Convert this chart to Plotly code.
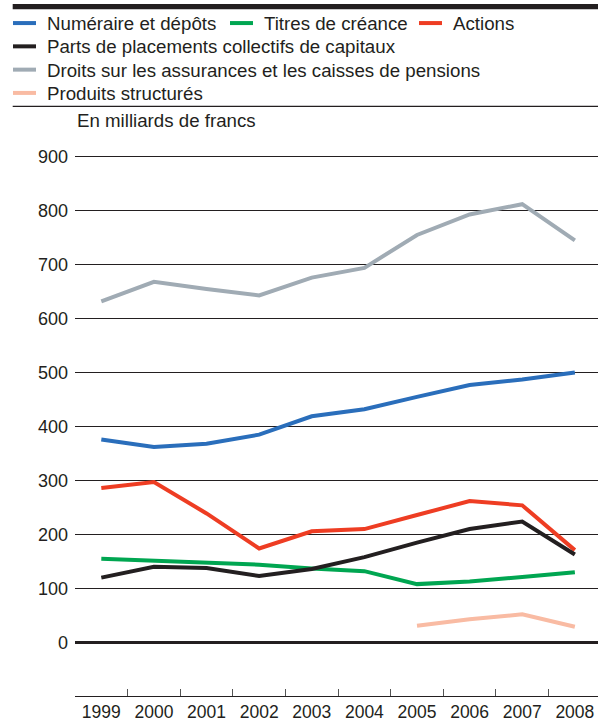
import plotly.graph_objects as go

# ---- data ----
years = ["1999", "2000", "2001", "2002", "2003", "2004", "2005", "2006", "2007", "2008"]
numeraire = [376, 362, 368, 385, 419, 432, 455, 477, 487, 500]
titres = [155, 151, 148, 144, 137, 132, 108, 113, 121, 130]
actions = [286, 297, 239, 174, 206, 210, 236, 262, 254, 171]
parts = [120, 140, 138, 123, 136, 158, 185, 210, 224, 163]
droits = [632, 668, 655, 643, 676, 694, 755, 793, 812, 745]
produits = [None, None, None, None, None, None, 31, 43, 52, 29]

y_ticks = [0, 100, 200, 300, 400, 500, 600, 700, 800, 900]

series = [
    ("Numéraire et dépôts", numeraire, "#2a6ebb"),
    ("Titres de créance", titres, "#00a651"),
    ("Actions", actions, "#ee3d23"),
    ("Parts de placements collectifs de capitaux", parts, "#231f20"),
    ("Droits sur les assurances et les caisses de pensions", droits, "#a0abb4"),
    ("Produits structurés", produits, "#f9bba3"),
]

W, H = 598, 719
L, R, T, B = 75, 0, 140, 22.7
PW, PH = W - L - R, H - T - B
TXT = "#231f20"
FONT = "Liberation Sans, Arial, sans-serif"


def px(x):
    return (x - L) / PW


def py(y):
    return (H - B - y) / PH


fig = go.Figure()
for name, vals, col in series:
    fig.add_trace(go.Scatter(x=years, y=vals, name=name, mode="lines",
                             line=dict(color=col, width=4), showlegend=False,
                             connectgaps=False))

shapes = []
annotations = []
# top bar and divider
shapes.append(dict(type="rect", xref="paper", yref="paper", x0=px(12.7), x1=px(598),
                   y0=py(9.3), y1=py(4), fillcolor="#231f20", line=dict(width=0), layer="above"))
shapes.append(dict(type="line", xref="paper", yref="paper", x0=px(12.7), x1=px(598),
                   y0=py(106.3), y1=py(106.3), line=dict(color="#231f20", width=1.3)))

# manual legend (positions of the keys)
legend_pos = [
    (13, 23.0), (230, 23.0), (419, 23.0),
    (13, 46.3), (13, 69.6), (13, 92.9),
]
for (name, vals, col), (lx, ly) in zip(series, legend_pos):
    shapes.append(dict(type="line", xref="paper", yref="paper", x0=px(lx), x1=px(lx + 23),
                       y0=py(ly), y1=py(ly), line=dict(color=col, width=4)))
    annotations.append(dict(xref="paper", yref="paper", x=px(lx + 32), y=py(ly + 0.5),
                            xanchor="left", yanchor="middle", showarrow=False, text=name,
                            font=dict(family=FONT, size=18.7, color=TXT)))

annotations.append(dict(xref="paper", yref="paper", x=px(75), y=py(120),
                        xanchor="left", yanchor="middle", showarrow=False,
                        text="En milliards de francs",
                        font=dict(family=FONT, size=18.7, color=TXT)))

fig.update_layout(
    width=W, height=H,
    margin=dict(l=L, r=R, t=T, b=B, pad=0, autoexpand=False),
    paper_bgcolor="white", plot_bgcolor="white",
    font=dict(family=FONT, size=18, color=TXT),
    shapes=shapes, annotations=annotations,
    showlegend=False,
    xaxis=dict(type="category", range=[-0.5, 9.44], showgrid=False, zeroline=False,
               showline=True, linecolor="#231f20", linewidth=1.3,
               ticks="inside", ticklen=7, tickwidth=1.3, tickcolor="#555555",
               tickson="boundaries", tickfont=dict(size=17.5, color=TXT),
               ticklabelstandoff=0, automargin=False),
    yaxis=dict(range=[-99.3, 930.9], tickvals=y_ticks, showgrid=True,
               gridcolor="#231f20", gridwidth=1, zeroline=True,
               zerolinecolor="#231f20", zerolinewidth=2.5, showline=False,
               ticks="", tickfont=dict(size=18, color=TXT), ticklabelstandoff=6,
               automargin=False),
)

fig.write_html(
    "out.html",
    config={"displayModeBar": False},
    post_script="document.body.style.margin='0';document.body.style.overflow='hidden';",
)
